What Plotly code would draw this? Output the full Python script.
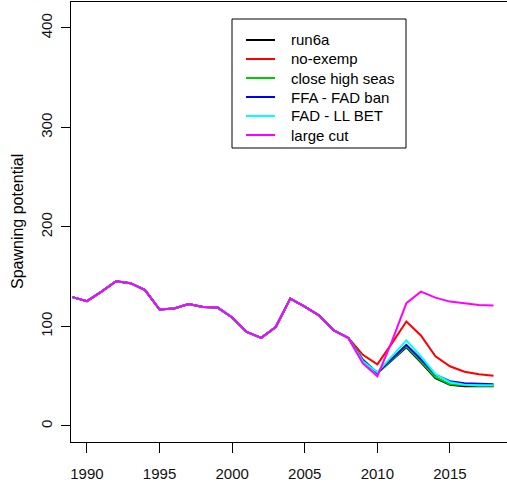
import plotly.graph_objects as go

# Spawning potential by scenario, 1989-2018
years = list(range(1989, 2019))

# shared history up to 2008
history = [129.5, 125.5, 135, 145.5, 143.5, 136.5, 117, 118, 122.5, 119.5,
           119, 109, 94.5, 88.5, 99.5, 128, 120, 111, 96, 88.5]

# scenario projections 2009-2018
run6a = [66, 53, 66, 79, 64, 48, 41.5, 40, 40, 40]
no_exemp = [71.5, 62, 83, 105, 91, 70, 60, 54.5, 52, 50.5]
close_high_seas = [67, 53, 66.5, 80, 65, 49, 42, 41, 40.5, 40.5]
ffa_fad_ban = [66, 53.5, 67.5, 81.5, 67, 51.5, 45, 43, 42.5, 42]
fad_ll_bet = [65, 54, 70, 86, 70, 52, 44, 41.5, 41, 41]
large_cut = [63, 50, 85, 123.5, 135, 129, 125, 123, 121.5, 121]

series_names = ["run6a", "no-exemp", "close high seas", "FFA - FAD ban",
                "FAD - LL BET", "large cut"]
series_values = [run6a, no_exemp, close_high_seas, ffa_fad_ban, fad_ll_bet, large_cut]
series_colors = ["#000000", "#FF0000", "#00CD00", "#0000FF", "#00FFFF", "#FF00FF"]

x_ticks = [1990, 1995, 2000, 2005, 2010, 2015]
y_ticks = [0, 100, 200, 300, 400]

FONT = "Liberation Sans, Arial, sans-serif"

# plot area in pixels
W, H = 507, 490
L, R, T, B = 71, 0, 2, 48
PW, PH = W - L - R, H - T - B


def px_x(px):
    return (px - L) / PW


def px_y(py):
    return (H - B - py) / PH


fig = go.Figure()
for name, vals, col in zip(series_names, series_values, series_colors):
    fig.add_trace(go.Scatter(
        x=years, y=history + vals, mode="lines", name=name,
        line=dict(color=col, width=2), showlegend=False,
    ))

fig.update_layout(
    width=W, height=H,
    margin=dict(l=L, r=R, t=T, b=B),
    paper_bgcolor="white", plot_bgcolor="white",
    font=dict(family=FONT, size=15, color="#000000"),
    showlegend=False,
)

fig.update_xaxes(
    range=[1988.9, 2018.93], tickvals=x_ticks,
    showgrid=False, zeroline=False,
    showline=True, linecolor="#000000", linewidth=1, mirror=True,
    ticks="outside", ticklen=10, tickcolor="#000000", tickwidth=1,
    ticklabelstandoff=8,
    tickfont=dict(family=FONT, size=15, color="#111111"),
)
fig.update_yaxes(
    range=[-16.1, 426.1], tickvals=y_ticks,
    showgrid=False, zeroline=False,
    showline=True, linecolor="#000000", linewidth=1,
    ticks="outside", ticklen=9, tickcolor="#000000", tickwidth=1,
    tickangle=-90, ticklabelstandoff=3,
    tickfont=dict(family=FONT, size=15, color="#111111"),
)

fig.add_annotation(
    text="Spawning potential", xref="paper", yref="paper",
    x=px_x(17), y=0.5, xanchor="center", yanchor="middle",
    textangle=-90, showarrow=False,
    font=dict(family=FONT, size=16, color="#000000"),
)

# legend box with line keys
fig.add_shape(
    type="rect", xref="paper", yref="paper",
    x0=px_x(232), x1=px_x(406), y0=px_y(148), y1=px_y(19),
    line=dict(color="#000000", width=1), fillcolor="white", layer="above",
)
for i, (name, col) in enumerate(zip(series_names, series_colors)):
    row_y = px_y(40 + 19 * i)
    fig.add_shape(
        type="line", xref="paper", yref="paper",
        x0=px_x(246), x1=px_x(275), y0=row_y, y1=row_y,
        line=dict(color=col, width=2), layer="above",
    )
    fig.add_annotation(
        text=name, xref="paper", yref="paper",
        x=px_x(289), y=row_y, xanchor="left", yanchor="middle",
        showarrow=False, font=dict(family=FONT, size=15, color="#000000"),
    )

fig.write_html("out.html")
